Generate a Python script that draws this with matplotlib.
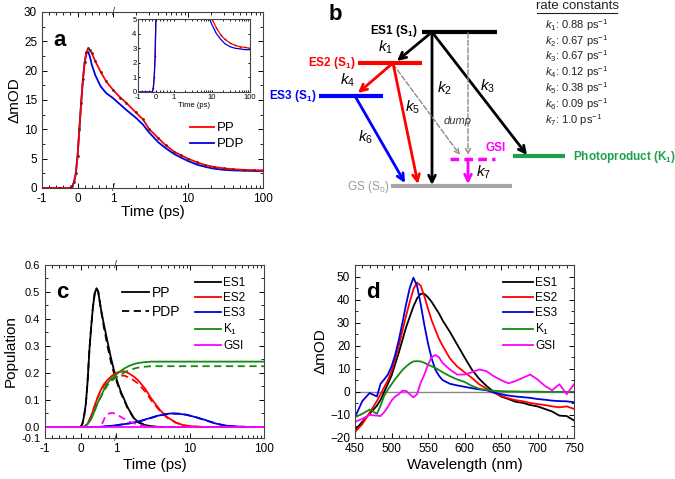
import numpy as np
import matplotlib
matplotlib.use("Agg")
import matplotlib.pyplot as plt
from matplotlib.ticker import FixedLocator, FixedFormatter, MultipleLocator, FormatStrFormatter
from matplotlib.lines import Line2D

plt.rcParams['font.family'] = ['Liberation Sans', 'DejaVu Sans']
plt.rcParams['mathtext.fontset'] = 'custom'
plt.rcParams['mathtext.rm'] = 'Liberation Sans'
plt.rcParams['mathtext.it'] = 'Liberation Sans:italic'
plt.rcParams['mathtext.bf'] = 'Liberation Sans:bold'

# ---- panel a: kinetic traces -------------------------------------------------
t_a = [-1, -0.5, -0.2, -0.15, -0.1, -0.05, 0, 0.05, 0.1, 0.15, 0.2, 0.25, 0.3,
       0.35, 0.4, 0.5, 0.65, 0.8, 1.0, 1.25, 1.5, 2, 2.5, 3, 4, 5, 6.5, 8, 10,
       13, 17, 22, 30, 40, 55, 75, 100]
pp_a = [0, 0, 0, 0.3, 1.0, 2.5, 5.5, 10, 14.5, 18.5, 21.5, 23.2, 23.8, 23.5,
        23.0, 21.6, 19.8, 18.2, 16.7, 15.4, 14.5, 12.9, 11.7, 10.1, 8.5, 7.3,
        6.2, 5.6, 5.0, 4.4, 3.9, 3.6, 3.35, 3.2, 3.1, 3.05, 3.0]
pdp_a = [0, 0, 0, 0.3, 1.0, 2.5, 5.5, 10, 14.5, 18.5, 21.5, 23.0, 23.2, 22.3,
         21.0, 19.2, 17.3, 16.2, 15.3, 14.2, 13.3, 12.0, 10.8, 9.5, 7.8, 6.8,
         5.8, 5.2, 4.6, 4.0, 3.6, 3.3, 3.1, 3.0, 2.95, 2.9, 2.9]

# ---- panel c: populations ------------------------------------------------------
t_es1 = [-1, 0, 0.05, 0.1, 0.15, 0.2, 0.25, 0.3, 0.35, 0.4, 0.45, 0.5, 0.57,
         0.65, 0.76, 0.85, 0.94, 1.05, 1.16, 1.3, 1.42, 1.6, 1.75, 2.0, 2.4,
         3, 4, 100]
es1_pp = [0, 0, 0.01, 0.04, 0.085, 0.17, 0.285, 0.37, 0.445, 0.495, 0.514,
          0.50, 0.44, 0.385, 0.316, 0.26, 0.211, 0.165, 0.131, 0.10, 0.075,
          0.05, 0.032, 0.018, 0.008, 0.002, 0, 0]
es1_pdp = [0, 0, 0.01, 0.04, 0.085, 0.17, 0.285, 0.37, 0.445, 0.495, 0.514,
           0.50, 0.44, 0.375, 0.30, 0.245, 0.20, 0.158, 0.126, 0.096, 0.072,
           0.048, 0.031, 0.017, 0.008, 0.002, 0, 0]

t_es2 = [-1, 0.1, 0.2, 0.3, 0.39, 0.47, 0.57, 0.66, 0.76, 0.87, 0.99, 1.15,
         1.3, 1.5, 1.75, 2.0, 2.5, 3, 4, 5, 6.5, 8, 10, 15, 100]
es2_pp = [0, 0, 0.012, 0.04, 0.075, 0.105, 0.137, 0.158, 0.174, 0.188, 0.2,
          0.205, 0.206, 0.198, 0.186, 0.172, 0.14, 0.105, 0.06, 0.035, 0.016,
          0.007, 0.003, 0, 0]
es2_pdp = [0, 0, 0.012, 0.04, 0.075, 0.105, 0.135, 0.152, 0.165, 0.175, 0.185,
           0.19, 0.19, 0.183, 0.172, 0.16, 0.13, 0.098, 0.056, 0.032, 0.015,
           0.006, 0.002, 0, 0]

t_es3 = [-1, 0.5, 0.7, 1, 1.5, 2, 2.8, 3.5, 4.5, 5.5, 7, 9, 12, 16, 22, 30,
         40, 60, 100]
es3_pp = [0, 0, 0.002, 0.006, 0.013, 0.02, 0.032, 0.04, 0.047, 0.05, 0.049,
          0.045, 0.036, 0.026, 0.013, 0.005, 0.002, 0, 0]
es3_pdp = [0, 0, 0.002, 0.006, 0.013, 0.019, 0.031, 0.039, 0.046, 0.05, 0.049,
           0.045, 0.036, 0.025, 0.013, 0.005, 0.002, 0, 0]

t_k1 = [-1, 0.1, 0.2, 0.3, 0.39, 0.47, 0.57, 0.66, 0.76, 0.87, 0.99, 1.15,
        1.3, 1.5, 1.75, 2.0, 2.4, 3, 4, 6, 100]
k1_pp = [0, 0, 0.01, 0.03, 0.057, 0.085, 0.112, 0.138, 0.162, 0.18, 0.193,
         0.207, 0.217, 0.226, 0.233, 0.237, 0.24, 0.242, 0.242, 0.242, 0.242]
k1_pdp = [0, 0, 0.01, 0.03, 0.057, 0.085, 0.11, 0.133, 0.155, 0.17, 0.182,
          0.193, 0.202, 0.21, 0.216, 0.22, 0.223, 0.225, 0.225, 0.225, 0.225]

t_gsi = [-1, 0.55, 0.62, 0.7, 0.8, 0.9, 1.0, 1.2, 1.5, 2, 2.5, 3, 100]
gsi_pp = [0, 0, 0, 0, 0, 0, 0, 0, 0, 0, 0, 0, 0]
gsi_pdp = [0, 0, 0.015, 0.04, 0.05, 0.052, 0.048, 0.035, 0.02, 0.008, 0.003, 0, 0]

# ---- panel d: species spectra --------------------------------------------------
wl = [450, 460, 470, 480, 485, 490, 495, 500, 505, 510, 515, 520, 525, 530,
      535, 540, 545, 550, 555, 560, 565, 570, 580, 590, 600, 610, 620, 630,
      640, 650, 660, 670, 680, 690, 700, 710, 720, 730, 740, 750]
sp_es1 = [-16.6, -13, -9.5, -6, -3.5, 0, 3.5, 7, 12, 17, 22.5, 28, 32.5, 37,
          40.5, 42.5, 42.5, 41, 39, 36.5, 34, 31, 26, 20.5, 15, 9.7, 5.7, 2.6,
          0, -2, -3.1, -4.3, -4.8, -5.7, -6.3, -7.4, -8.5, -10.3, -10.5, -12.4]
sp_es2 = [-17.4, -14, -9, -4, -1, 2, 5, 9, 14, 20, 26.5, 33, 39, 44.5, 47.4,
          46, 41.5, 36, 31, 27, 23, 20, 14.5, 11, 8.5, 6.1, 3.3, 1.4, -0.3,
          -1.7, -2.8, -3.6, -4.1, -4.8, -5.3, -5.7, -6.3, -6.7, -6.3, -7.4]
sp_es3 = [-11, -4, -0.5, -2, 3.5, 5.4, 7.5, 11, 16, 22.5, 30, 38, 45, 49.5,
          46, 38, 29, 21, 14.5, 9.7, 7, 5.1, 3.5, 2.8, 2.2, 1.6, 1.1, 0.7,
          -0.3, -1, -1.6, -2, -2.3, -2.6, -3.1, -3.4, -3.8, -4, -4.1, -4.5]
sp_k1 = [-11, -9.5, -7.7, -9.5, -6, -1.7, 1, 3.3, 5.5, 7.5, 9.5, 11, 12.3,
         13.2, 13.3, 13.2, 12.6, 11.8, 11.1, 10.4, 9.5, 8.5, 6.8, 5.4, 4.3,
         2.6, 1.4, 0.8, 0.5, 0.3, 0.2, 0.2, 0.1, 0.1, 0.1, 0, 0, 0, 0, 0]
sp_gsi = [-13, -11.7, -10, -10.3, -10.5, -8.8, -6.5, -3.8, -2, -1, 0.5, 0.4,
          -1, -2.4, -1, 4, 7.5, 11.8, 15, 16, 15, 12.5, 9.7, 7.5, 7.5, 8.5,
          9.7, 9, 6.8, 5.1, 3.7, 4.7, 6.1, 7.5, 5.4, 2.6, 0.7, 3.3, -1, 3.3]

rate_labels = ["1", "2", "3", "4", "5", "6", "7"]
rate_values = ["0.88", "0.67", "0.67", "0.12", "0.38", "0.09", "1.0"]

RED = '#ff0000'
BLUE = '#0000dd'
GREEN = '#138a13'
MAG = '#ff00ff'

TICK_FS = 8.5
LABEL_FS = 11


def split_scale(k):
    def fwd(x):
        x = np.asarray(x, dtype=float)
        return np.where(x <= 1, (x - 1) * k, np.log10(np.clip(x, 1, None)))

    def inv(u):
        u = np.asarray(u, dtype=float)
        return np.where(u <= 0, u / k + 1, 10 ** np.clip(u, 0, None))
    return fwd, inv


def time_axis(ax, k, fs=TICK_FS):
    ax.set_xscale('function', functions=split_scale(k))
    ax.set_xlim(-1, 100)
    ax.xaxis.set_major_locator(FixedLocator([-1, 0, 1, 10, 100]))
    ax.xaxis.set_major_formatter(FixedFormatter(['-1', '0', '1', '10', '100']))
    minors = [-0.8, -0.6, -0.4, -0.2, 0.2, 0.4, 0.6, 0.8]
    minors += list(range(2, 10)) + list(range(20, 100, 10))
    ax.xaxis.set_minor_locator(FixedLocator(minors))
    ax.tick_params(labelsize=fs)


def style(ax):
    ax.tick_params(which='both', direction='in', top=True, right=True)
    ax.tick_params(which='major', length=3.5, width=0.7)
    ax.tick_params(which='minor', length=2, width=0.6)
    for s in ax.spines.values():
        s.set_color('#444444')
        s.set_linewidth(0.8)


def breaks(ax):
    tr = ax.get_xaxis_transform()
    for yy in (0, 1):
        ax.text(1, yy, '/', transform=tr, ha='center', va='center',
                fontsize=8, color='#444444', clip_on=False)


fig = plt.figure(figsize=(6.75, 4.79), dpi=100)
W, H = 675.0, 479.0


def px_axes(x0, x1, y0, y1):
    return fig.add_axes([x0 / W, 1 - y1 / H, (x1 - x0) / W, (y1 - y0) / H])


# ---------------- panel a
ax = px_axes(42, 263, 12, 188)
time_axis(ax, 0.475)
ax.plot(t_a, pp_a, color=RED, lw=1.3, label='PP', zorder=3)
ax.plot(t_a, pp_a, 'o', color='#6b2020', ms=2, mew=0, zorder=4)
ax.plot(t_a, pdp_a, color=BLUE, lw=1.3, label='PDP', zorder=2)
ax.set_ylim(0, 30)
ax.yaxis.set_major_locator(MultipleLocator(5))
ax.yaxis.set_minor_locator(MultipleLocator(2.5))
ax.set_xlabel('Time (ps)', fontsize=LABEL_FS, labelpad=0)
ax.set_ylabel('ΔmOD', fontsize=LABEL_FS, labelpad=2)
style(ax)
breaks(ax)
ax.text(0.05, 0.9, 'a', transform=ax.transAxes, fontsize=16,
        fontweight='bold', va='top')
ax.legend(loc='upper left', bbox_to_anchor=(0.67, 0.375), frameon=False,
          fontsize=9.5, handlelength=1.8, handletextpad=0.2,
          labelspacing=0.3, borderpad=0, borderaxespad=0)

ins = px_axes(138, 250, 19, 92)
time_axis(ins, 0.475, fs=5.5)
ins.plot(t_a, pp_a, color=RED, lw=0.9)
ins.plot(t_a, pp_a, 'o', color='#6b2020', ms=1.2, mew=0)
ins.plot(t_a, pdp_a, color=BLUE, lw=0.9)
ins.set_ylim(0, 5)
ins.yaxis.set_major_locator(MultipleLocator(1))
ins.set_xlabel('Time (ps)', fontsize=5.5, labelpad=0.5)
style(ins)
ins.tick_params(which='both', length=1.5, pad=1)
ins.tick_params(axis='x', pad=1.5)

# ---------------- panel b (scheme, pixel coordinates)
axb = px_axes(240, 675, 0, 220)
axb.set_xlim(240, 675)
axb.set_ylim(220, 0)
axb.axis('off')

axb.plot([422, 497], [32, 32], color='black', lw=3, solid_capstyle='butt')
axb.plot([358, 422], [63, 63], color=RED, lw=3, solid_capstyle='butt')
axb.plot([319, 383], [96, 96], color='#0000ff', lw=3, solid_capstyle='butt')
axb.plot([391, 512], [186, 186], color='#a6a6a6', lw=3, solid_capstyle='butt')
axb.plot([450, 495], [159, 159], color=MAG, lw=2.5, ls=(0, (2.5, 1.5)))
axb.plot([513, 565], [156, 156], color='#1fa04a', lw=3, solid_capstyle='butt')

lab_fs = 8.5
axb.text(418, 31, r'ES1 (S$_\mathbf{1}$)', ha='right', va='center',
         fontsize=lab_fs, fontweight='bold', color='black')
axb.text(356, 63, r'ES2 (S$_\mathbf{1}$)', ha='right', va='center',
         fontsize=lab_fs, fontweight='bold', color=RED)
axb.text(317, 96, r'ES3 (S$_\mathbf{1}$)', ha='right', va='center',
         fontsize=lab_fs, fontweight='bold', color='#0000ff')
axb.text(389, 187, r'GS (S$_0$)', ha='right', va='center',
         fontsize=lab_fs, color='#999999')
axb.text(486, 148, 'GSI', ha='left', va='center',
         fontsize=lab_fs, fontweight='bold', color=MAG)
axb.text(573, 157, r'Photoproduct (K$_\mathbf{1}$)', ha='left', va='center',
         fontsize=lab_fs, fontweight='bold', color='#1fa04a')


def arrow(p0, p1, color, lw=2, ls='-'):
    axb.annotate('', xy=p1, xytext=p0,
                 arrowprops=dict(arrowstyle='->', color=color, lw=lw,
                                 linestyle=ls, shrinkA=0, shrinkB=0,
                                 mutation_scale=12 if lw > 1.5 else 9))


arrow((432, 32), (397, 61), 'black')
arrow((432, 32), (432, 185), 'black')
arrow((432, 32), (527, 155), 'black')
arrow((468, 33), (468, 155), '#8c8c8c', lw=1, ls='--')
arrow((393, 64), (460, 155), '#8c8c8c', lw=1, ls='--')
arrow((393, 63), (358, 93), RED)
arrow((393, 63), (418, 184), RED)
arrow((355, 96), (405, 183), '#0000ff')
arrow((468, 160), (468, 184), MAG)

kfs = 11
for name, (xx, yy) in {'1': (386, 47), '2': (444, 88), '3': (488, 86),
                       '4': (348, 80), '5': (413, 107), '6': (366, 137),
                       '7': (483, 172)}.items():
    axb.text(xx, yy, r'$k_%s$' % name, ha='center', va='center', fontsize=kfs)
axb.text(458, 121, 'dump', ha='center', va='center', fontsize=8,
         style='italic', color='#333333')
axb.text(335, 15, 'b', ha='center', va='center', fontsize=16,
         fontweight='bold')

axb.text(577, 6, 'rate constants', ha='center', va='center', fontsize=9.5,
         color='#222222')
axb.plot([537, 617], [13, 13], color='#222222', lw=0.8)
for i, (lab, val) in enumerate(zip(rate_labels, rate_values)):
    axb.text(545, 25 + 15.8 * i, r'$k_%s$: %s ps$^{-1}$' % (lab, val),
             ha='left', va='center', fontsize=8, color='#222222')

# ---------------- panel c
axc = px_axes(45, 264, 265, 438)
time_axis(axc, 0.48)
axc.set_yscale('function', functions=(
    lambda y: np.where(np.asarray(y) >= 0, y, np.asarray(y) * 0.41),
    lambda u: np.where(np.asarray(u) >= 0, u, np.asarray(u) / 0.41)))
axc.set_ylim(-0.1, 0.6)
axc.yaxis.set_major_locator(FixedLocator([-0.1, 0, 0.1, 0.2, 0.3, 0.4, 0.5, 0.6]))
axc.yaxis.set_major_formatter(FormatStrFormatter('%.1f'))
axc.yaxis.set_minor_locator(FixedLocator([0.05, 0.15, 0.25, 0.35, 0.45, 0.55]))
axc.tick_params(axis='y', labelsize=8)

series = [(t_es1, es1_pp, es1_pdp, 'black', 'ES1'),
          (t_es2, es2_pp, es2_pdp, RED, 'ES2'),
          (t_es3, es3_pp, es3_pdp, BLUE, 'ES3'),
          (t_k1, k1_pp, k1_pdp, GREEN, r'K$_1$'),
          (t_gsi, gsi_pp, gsi_pdp, MAG, 'GSI')]
species_handles = []
for tt, pp, pdp, col, lab in series:
    h, = axc.plot(tt, pp, color=col, lw=1.3, label=lab)
    axc.plot(tt, pdp, color=col, lw=1.3, ls=(0, (4, 2.5)))
    species_handles.append(h)

axc.set_xlabel('Time (ps)', fontsize=LABEL_FS, labelpad=2)
axc.set_ylabel('Population', fontsize=LABEL_FS, labelpad=2)
style(axc)
breaks(axc)
axc.text(0.05, 0.9, 'c', transform=axc.transAxes, fontsize=16,
         fontweight='bold', va='top')
leg1 = axc.legend(handles=species_handles, loc='upper left',
                  bbox_to_anchor=(0.685, 0.93), frameon=False, fontsize=8.5,
                  handlelength=2.2, handletextpad=0.2, labelspacing=0.25,
                  borderpad=0, borderaxespad=0)
axc.add_artist(leg1)
ls_handles = [Line2D([], [], color='black', lw=1.3),
              Line2D([], [], color='black', lw=1.3, ls=(0, (4, 2.5)))]
axc.legend(ls_handles, ['PP', 'PDP'], loc='upper left',
           bbox_to_anchor=(0.35, 0.88), frameon=False, fontsize=10,
           handlelength=2.0, handletextpad=0.2, labelspacing=0.4,
           borderpad=0, borderaxespad=0)

# ---------------- panel d
axd = px_axes(355, 574, 265, 438)
axd.axhline(0, color='#888888', lw=1, zorder=1)
spectra = [(sp_es1, 'black', 'ES1'), (sp_es2, RED, 'ES2'),
           (sp_es3, BLUE, 'ES3'), (sp_k1, GREEN, r'K$_1$'),
           (sp_gsi, MAG, 'GSI')]
for vals, col, lab in spectra:
    axd.plot(wl, vals, color=col, lw=1.3, label=lab)
axd.set_xlim(450, 750)
axd.set_ylim(-20, 55)
axd.xaxis.set_major_locator(MultipleLocator(50))
axd.xaxis.set_minor_locator(MultipleLocator(10))
axd.yaxis.set_major_locator(MultipleLocator(10))
axd.yaxis.set_minor_locator(MultipleLocator(5))
axd.tick_params(labelsize=TICK_FS)
axd.set_xlabel('Wavelength (nm)', fontsize=LABEL_FS, labelpad=2)
axd.set_ylabel('ΔmOD', fontsize=LABEL_FS, labelpad=2)
style(axd)
axd.text(0.05, 0.9, 'd', transform=axd.transAxes, fontsize=16,
         fontweight='bold', va='top')
axd.legend(loc='upper left', bbox_to_anchor=(0.676, 0.93), frameon=False,
           fontsize=8.5, handlelength=2.5, handletextpad=0.2,
           labelspacing=0.25, borderpad=0, borderaxespad=0)

fig.savefig('out.png', dpi=100)
